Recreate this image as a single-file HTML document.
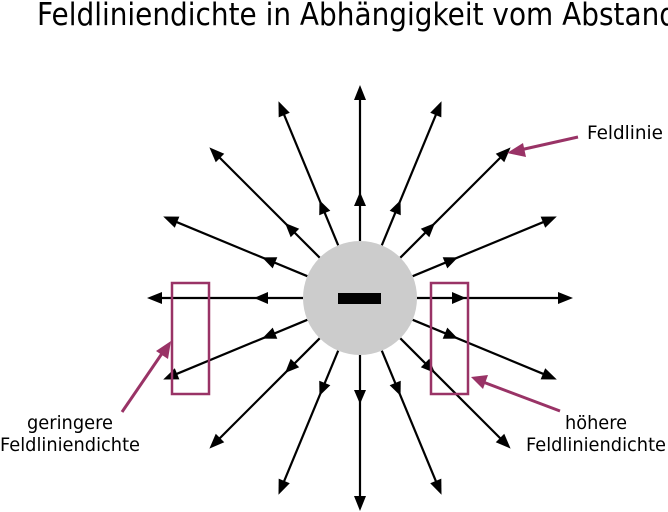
<!DOCTYPE html>
<html><head><meta charset="utf-8"><style>html,body{margin:0;padding:0;background:#fff}svg{display:block}</style></head>
<body>
<svg width="668" height="512" viewBox="0 0 668 512" xmlns="http://www.w3.org/2000/svg" font-family="'DejaVu Sans','Liberation Sans',sans-serif">
<defs>
<g id="ray">
<line x1="57" y1="0" x2="204" y2="0" stroke="#000" stroke-width="2.2"/>
<polygon points="213,0 198,-6 198,6" fill="#000"/>
<polygon points="106,0 92,-6 92,6" fill="#000"/>
</g>
</defs>
<text x="37" y="25" font-size="31" textLength="640" lengthAdjust="spacingAndGlyphs">Feldliniendichte in Abhängigkeit vom Abstand</text>
<g transform="translate(360,298)">
<use href="#ray" transform="rotate(0)"/>
<use href="#ray" transform="rotate(22.5)"/>
<use href="#ray" transform="rotate(45)"/>
<use href="#ray" transform="rotate(67.5)"/>
<use href="#ray" transform="rotate(90)"/>
<use href="#ray" transform="rotate(112.5)"/>
<use href="#ray" transform="rotate(135)"/>
<use href="#ray" transform="rotate(157.5)"/>
<use href="#ray" transform="rotate(180)"/>
<use href="#ray" transform="rotate(202.5)"/>
<use href="#ray" transform="rotate(225)"/>
<use href="#ray" transform="rotate(247.5)"/>
<use href="#ray" transform="rotate(270)"/>
<use href="#ray" transform="rotate(292.5)"/>
<use href="#ray" transform="rotate(315)"/>
<use href="#ray" transform="rotate(337.5)"/>
<circle cx="0" cy="0" r="57" fill="#cccccc"/>
<rect x="-22" y="-5" width="43" height="11" fill="#000"/>
</g>
<rect x="172" y="283" width="37" height="111" fill="none" stroke="#993366" stroke-width="2.5"/>
<rect x="431" y="283" width="37" height="111" fill="none" stroke="#993366" stroke-width="2.5"/>
<g stroke="#993366" stroke-width="3" fill="#993366">
<line x1="578" y1="137" x2="520" y2="150"/>
<polygon points="507,153 523,143 526,157" stroke="none"/>
<line x1="122" y1="412" x2="163" y2="352"/>
<polygon points="171,341 168,359 156,351" stroke="none"/>
<line x1="560" y1="411" x2="483" y2="382"/>
<polygon points="471,377 488,375 483,389" stroke="none"/>
</g>
<g font-size="19" fill="#000">
<text x="587" y="139" textLength="76" lengthAdjust="spacingAndGlyphs">Feldlinie</text>
<text x="70" y="429" text-anchor="middle" textLength="86" lengthAdjust="spacingAndGlyphs">geringere</text>
<text x="70" y="451" text-anchor="middle" textLength="140" lengthAdjust="spacingAndGlyphs">Feldliniendichte</text>
<text x="596" y="429" text-anchor="middle" textLength="62" lengthAdjust="spacingAndGlyphs">höhere</text>
<text x="596" y="451" text-anchor="middle" textLength="140" lengthAdjust="spacingAndGlyphs">Feldliniendichte</text>
</g>
</svg>
</body></html>
